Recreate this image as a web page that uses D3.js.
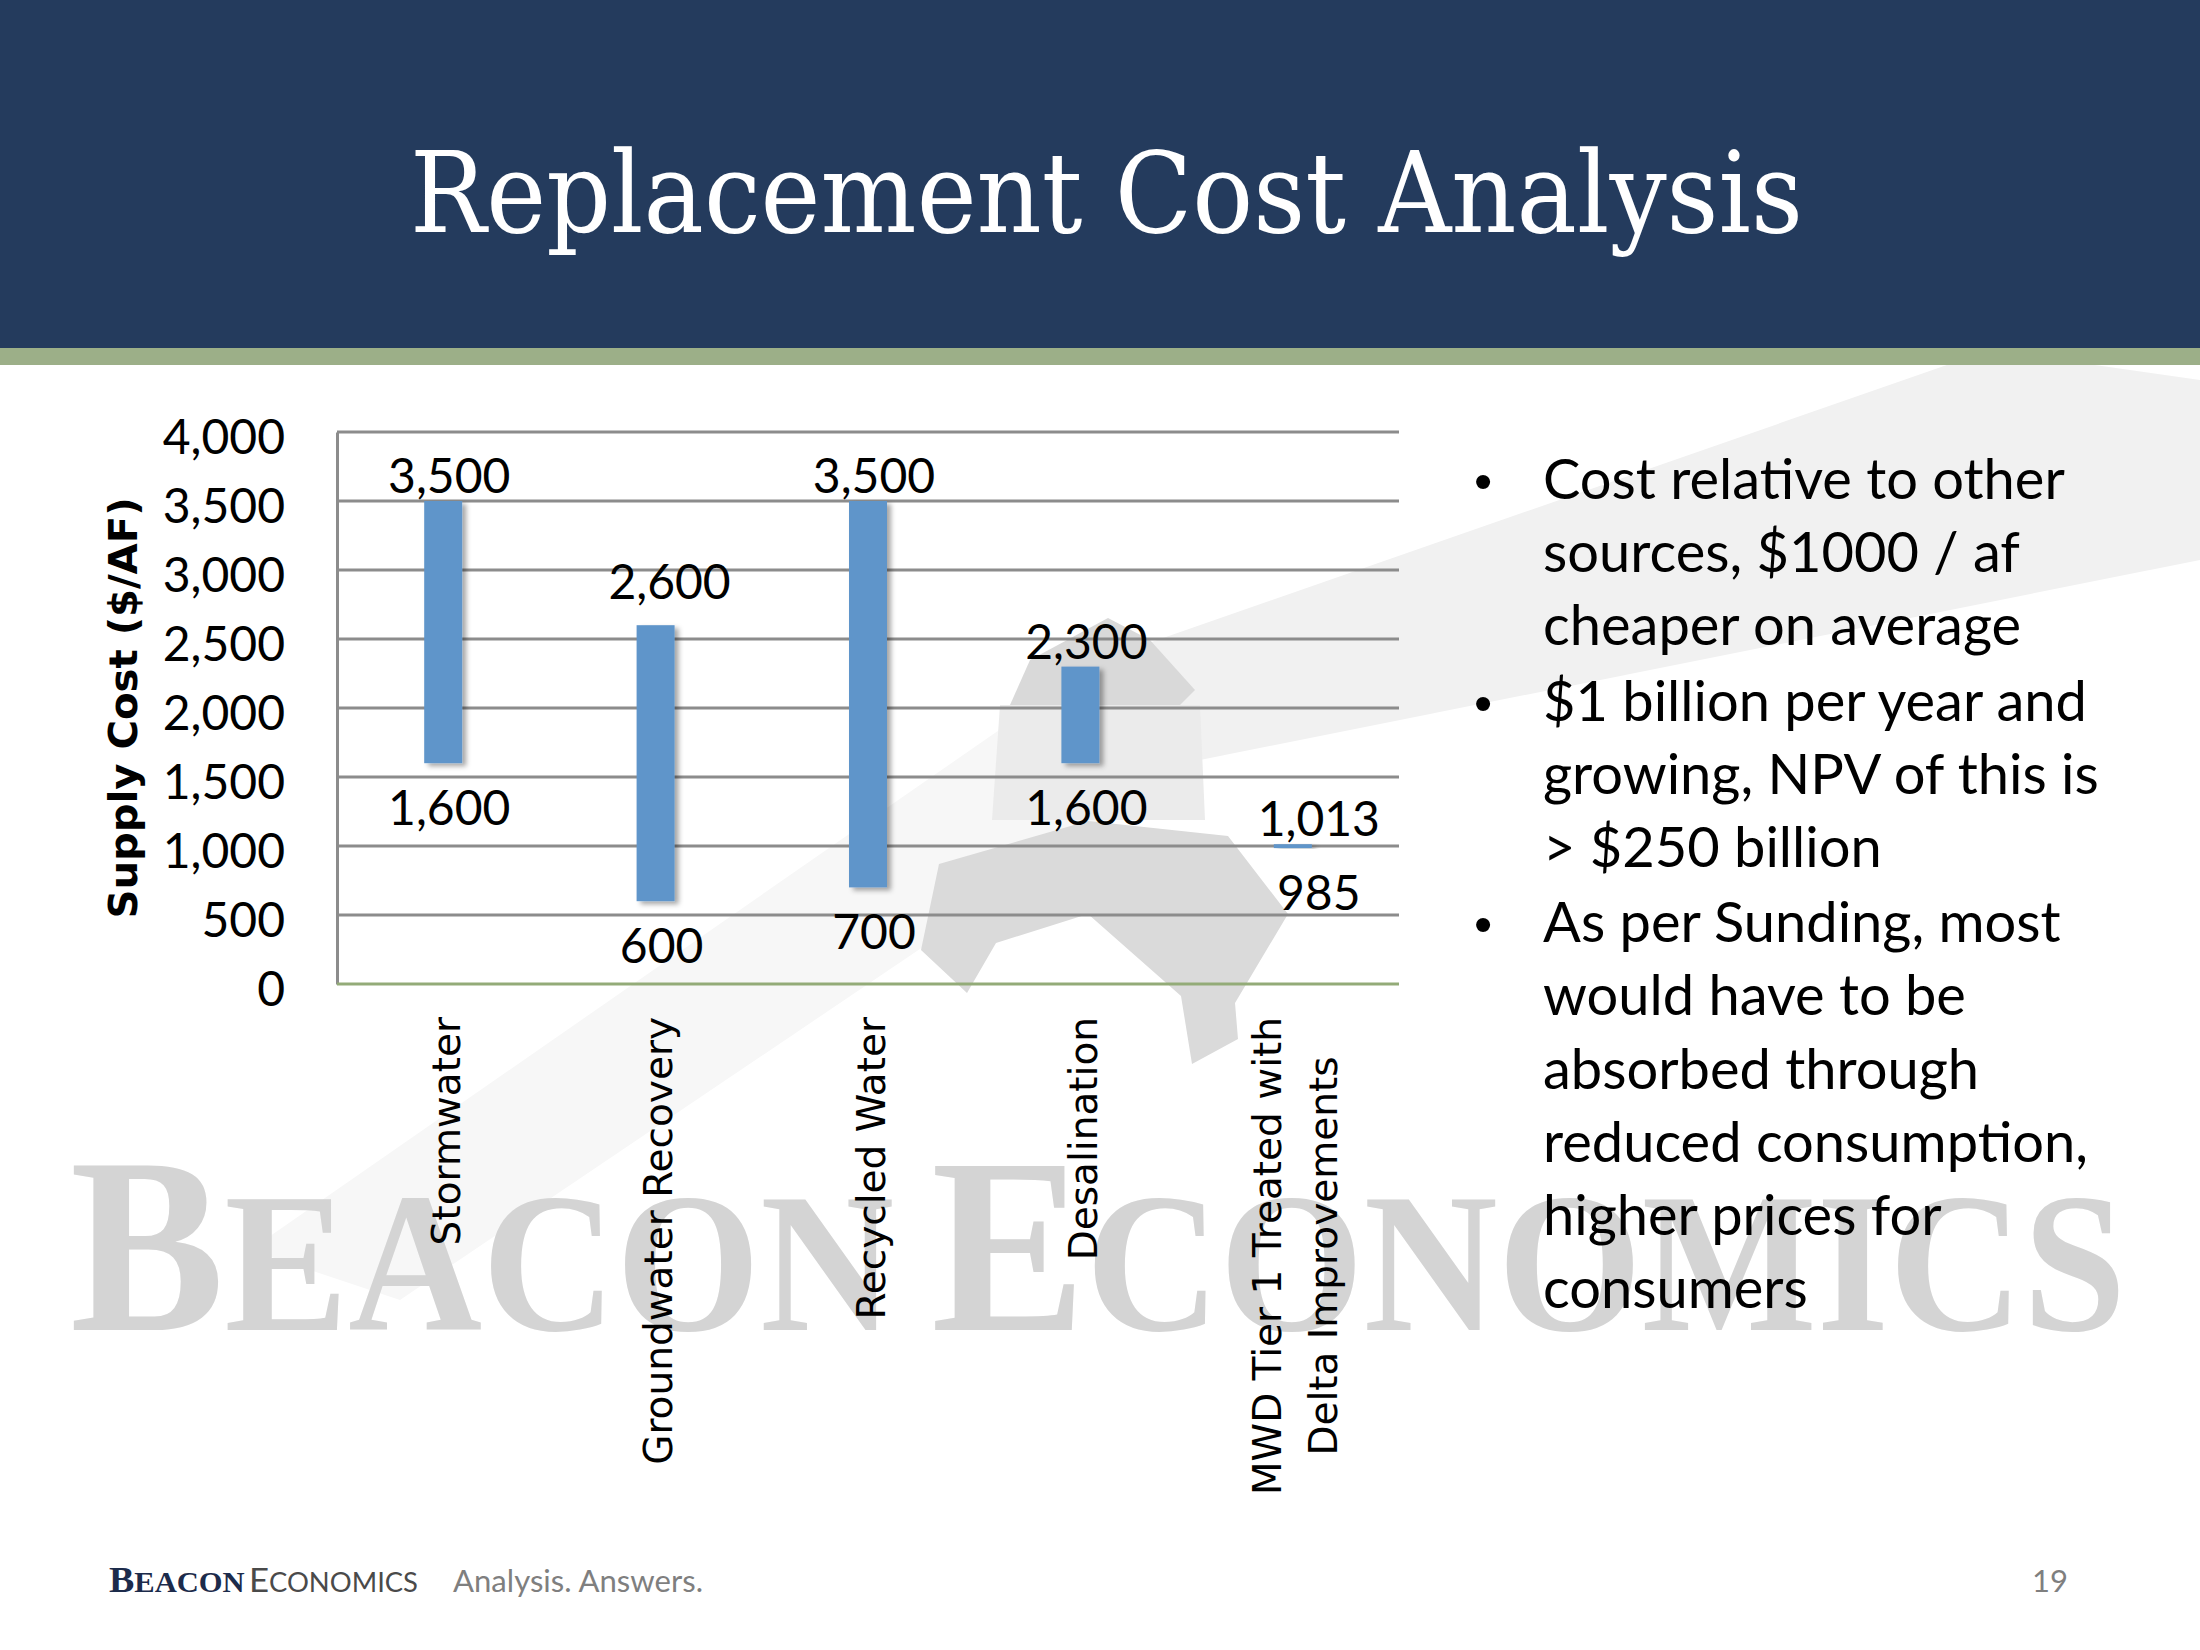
<!DOCTYPE html>
<html>
<head>
<meta charset="utf-8">
<script src="https://cdn.jsdelivr.net/npm/d3@7"></script>
<style>
  body { margin: 0; background: #fff; }
  svg { display: block; }
</style>
</head>
<body>
<svg id="slide"></svg>
<script>
// Chart data
const categories = ["Stormwater", "Groundwater Recovery", "Recycled Water", "Desalination",
                    "MWD Tier 1 Treated with\nDelta Improvements"];
const lowCost = [1600, 600, 700, 1600, 985];
const highCost = [3500, 2600, 3500, 2300, 1013];
const yTicks = [0, 500, 1000, 1500, 2000, 2500, 3000, 3500, 4000];

const bullets = [
    ["Cost relative to other", "sources, $1000 / af", "cheaper on average"],
    ["$1 billion per year and", "growing, NPV of this is", "> $250 billion"],
    ["As per Sunding, most", "would have to be", "absorbed through", "reduced consumption,", "higher prices for", "consumers"]
];

// Slide dimensions
const W = 2200, H = 1650;
const plot = { left: 337, right: 1399, top: 432, bottom: 984 };

const svg = d3.select("#slide").attr("width", W).attr("height", H);

// Shadow filter for bars
const defs = svg.append("defs");
const shadow = defs.append("filter").attr("id", "barShadow")
    .attr("x", "-30%").attr("y", "-10%").attr("width", "180%").attr("height", "130%");
shadow.append("feDropShadow")
    .attr("dx", 4).attr("dy", 3).attr("stdDeviation", 2.5)
    .attr("flood-color", "#000").attr("flood-opacity", 0.35);

// ---- background watermark (beam, lighthouse, wordmark) ----
const wm = svg.append("g").attr("class", "watermark");

wm.append("path") // light beam, right side
    .attr("d", "M1100,660 L1990,350 L2200,380 L2200,560 L1200,760 Z")
    .attr("fill", "#f1f1f1");
wm.append("path") // light beam, left side (fainter)
    .attr("d", "M1100,660 L1200,760 L400,1300 L250,1250 Z")
    .attr("fill", "#f7f7f7");
wm.append("path") // lantern roof
    .attr("d", "M1108,618 L1150,640 L1195,690 L1180,705 L1010,705 L1030,660 Z")
    .attr("fill", "#d9d9d9");
wm.append("path") // tower
    .attr("d", "M1000,705 L1200,705 L1205,820 L992,820 Z")
    .attr("fill", "#ebebeb");
wm.append("path") // rock
    .attr("d", "M939,864 L1088,821 L1228,836 L1288,914 L1235,1003 L1238,1039 L1192,1064 L1181,996 L1088,914 L996,943 L967,993 L921,950 Z")
    .attr("fill", "#dadada");

const wmText = wm.append("text")
    .attr("x", 70).attr("y", 1330)
    .attr("textLength", 2056).attr("lengthAdjust", "spacingAndGlyphs")
    .attr("font-family", "Liberation Serif, serif")
    .attr("font-weight", "bold")
    .attr("fill", "#d4d4d4");
wmText.append("tspan").attr("font-size", 250).text("B");
wmText.append("tspan").attr("font-size", 200).text("EACON");
wmText.append("tspan").attr("font-size", 250).attr("dx", 40).text("E");
wmText.append("tspan").attr("font-size", 200).text("CONOMICS");

// ---- header ----
svg.append("rect").attr("x", 0).attr("y", 0).attr("width", W).attr("height", 348).attr("fill", "#243b5d");
svg.append("rect").attr("x", 0).attr("y", 348).attr("width", W).attr("height", 17).attr("fill", "#9caf88");
svg.append("text")
    .attr("x", 410).attr("y", 232)
    .attr("textLength", 1393).attr("lengthAdjust", "spacingAndGlyphs")
    .attr("font-family", "DejaVu Serif, serif")
    .attr("font-size", 112)
    .attr("fill", "#fff")
    .text("Replacement Cost Analysis");

// ---- scales ----
const x = d3.scaleBand().domain(d3.range(categories.length)).range([plot.left, plot.right]);
const y = d3.scaleLinear().domain([0, 4000]).range([plot.bottom, plot.top]);
const barWidth = 38;

// gridlines + y labels
const yAxis = d3.axisLeft(y).tickValues(yTicks).tickSize(0).tickFormat(d3.format(","));
const yAxisGroup = svg.append("g").attr("transform", `translate(${plot.left},0)`).call(yAxis);
yAxisGroup.select(".domain").attr("stroke", "#8c8c8c").attr("stroke-width", 3);
yAxisGroup.selectAll("text")
    .attr("x", 285 - plot.left)
    .attr("dy", "0.44em")
    .attr("font-family", "Lato, sans-serif")
    .attr("font-size", 48)
    .attr("fill", "#000");

svg.append("g").selectAll("line")
    .data(yTicks.filter(d => d > 0))
    .join("line")
    .attr("x1", plot.left).attr("x2", plot.right)
    .attr("y1", d => y(d)).attr("y2", d => y(d))
    .attr("stroke", "#8c8c8c").attr("stroke-width", 3);

// x axis baseline
svg.append("line")
    .attr("x1", plot.left).attr("x2", plot.right)
    .attr("y1", y(0)).attr("y2", y(0))
    .attr("stroke", "#93ab78").attr("stroke-width", 3);

// y axis title
svg.append("text")
    .attr("transform", "translate(123,708) rotate(-90)")
    .attr("text-anchor", "middle")
    .attr("dy", "0.35em")
    .attr("font-family", "DejaVu Sans, sans-serif")
    .attr("font-weight", "bold")
    .attr("font-size", 39)
    .attr("textLength", 421).attr("lengthAdjust", "spacingAndGlyphs")
    .text("Supply Cost ($/AF)");

// floating bars (low -> high)
const cx = i => x(i) + x.bandwidth() / 2;
svg.append("g").selectAll("rect")
    .data(categories.map((c, i) => i))
    .join("rect")
    .attr("x", i => cx(i) - barWidth / 2)
    .attr("width", barWidth)
    .attr("y", i => y(highCost[i]))
    .attr("height", i => Math.max(3, y(lowCost[i]) - y(highCost[i])))
    .attr("fill", "#5f95ca")
    .attr("filter", "url(#barShadow)");

// data labels; a few were hand-placed in the original, so nudge them
const labelNudge = { top: { 1: [14, -18], 4: [26, 0] }, bottom: { 4: [26, 0] } };
const nudge = (side, i) => labelNudge[side][i] || [6, 0];
const labelFont = g => g.attr("font-family", "Lato, sans-serif").attr("font-size", 48)
    .attr("text-anchor", "middle").attr("fill", "#000");

svg.append("g").selectAll("text")
    .data(categories.map((c, i) => i))
    .join("text")
    .call(labelFont)
    .attr("x", i => cx(i) + nudge("top", i)[0])
    .attr("y", i => y(highCost[i]) - 8 + nudge("top", i)[1])
    .text(i => d3.format(",")(highCost[i]));

svg.append("g").selectAll("text")
    .data(categories.map((c, i) => i))
    .join("text")
    .call(labelFont)
    .attr("x", i => cx(i) + nudge("bottom", i)[0])
    .attr("y", i => y(lowCost[i]) + 62 + nudge("bottom", i)[1])
    .text(i => d3.format(",")(lowCost[i]));

// category labels, rotated
const catTop = 1017, catLine = 56;
categories.forEach((c, i) => {
    const lines = c.split("\n");
    const g = svg.append("g").attr("transform", `translate(${cx(i) + 3},${catTop}) rotate(-90)`);
    const texts = lines.map((ln, j) => g.append("text")
        .attr("y", (j - (lines.length - 1) / 2) * catLine)
        .attr("dy", "0.35em")
        .attr("font-family", "DejaVu Sans, sans-serif")
        .attr("font-size", 39)
        .attr("fill", "#000")
        .text(ln));
    const maxLen = d3.max(texts, t => t.node().getComputedTextLength());
    texts.forEach(t => t.attr("text-anchor", "middle").attr("x", -maxLen / 2));
});

// ---- bullet list ----
const bulletGroup = svg.append("g");
let lineIdx = 0;
bullets.forEach((para, p) => {
    const baseY = 499 + lineIdx * 73.2 + p * 2;
    bulletGroup.append("text")
        .attr("x", 1483).attr("y", baseY)
        .attr("text-anchor", "middle")
        .attr("font-family", "Liberation Sans, Arial, sans-serif")
        .attr("font-size", 52)
        .text("\u2022");
    para.forEach((ln, j) => {
        bulletGroup.append("text")
            .attr("x", 1543).attr("y", baseY + j * 73.2)
            .attr("font-family", "Lato, sans-serif")
            .attr("font-size", 56)
            .attr("fill", "#000")
            .text(ln);
    });
    lineIdx += para.length;
});

// ---- footer ----
const logo = svg.append("text")
    .attr("x", 109).attr("y", 1592)
    .attr("textLength", 309).attr("lengthAdjust", "spacingAndGlyphs");
logo.append("tspan").attr("font-family", "Liberation Serif, serif").attr("font-weight", "bold")
    .attr("font-size", 36).attr("fill", "#1c2b4b").text("B");
logo.append("tspan").attr("font-family", "Liberation Serif, serif").attr("font-weight", "bold")
    .attr("font-size", 29).attr("fill", "#1c2b4b").text("EACON");
logo.append("tspan").attr("font-family", "Lato, sans-serif")
    .attr("font-size", 33).attr("fill", "#4a4a4a").attr("dx", 4).text("E");
logo.append("tspan").attr("font-family", "Lato, sans-serif")
    .attr("font-size", 26).attr("fill", "#4a4a4a").text("CONOMICS");

svg.append("text")
    .attr("x", 453).attr("y", 1592)
    .attr("textLength", 250).attr("lengthAdjust", "spacingAndGlyphs")
    .attr("font-family", "Lato, sans-serif").attr("font-size", 31)
    .attr("fill", "#7f7f7f")
    .text("Analysis. Answers.");

svg.append("text")
    .attr("x", 2068).attr("y", 1592)
    .attr("text-anchor", "end")
    .attr("font-family", "Lato, sans-serif").attr("font-size", 31)
    .attr("fill", "#7f7f7f")
    .text("19");
</script>
</body>
</html>
